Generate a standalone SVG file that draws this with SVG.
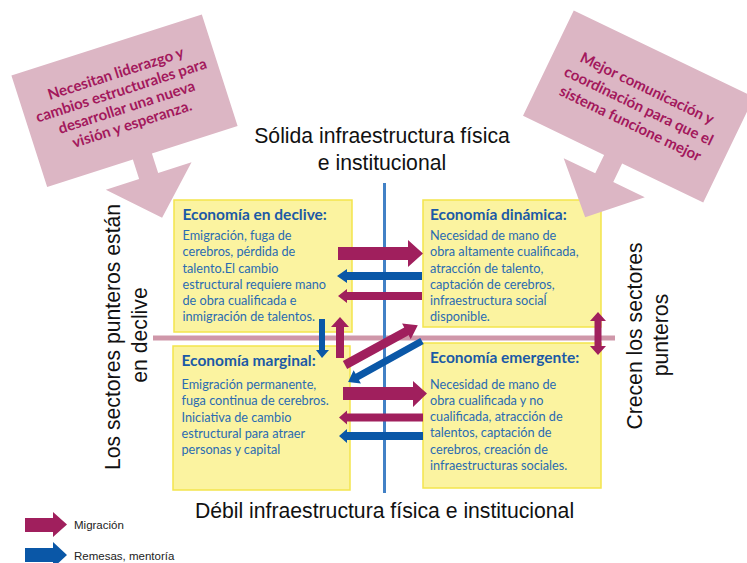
<svg xmlns="http://www.w3.org/2000/svg" width="747" height="563" viewBox="0 0 747 563">
<style>
.box{fill:#fbf3a0;stroke:#f3e54c;stroke-width:1.5}
.ttl{font-family:Lato,"Liberation Sans",sans-serif;font-weight:bold;font-size:15.5px;fill:#1b5aa6}
.bd{font-family:Lato,"Liberation Sans",sans-serif;font-size:12.7px;fill:#2a6bb2}
.big{font-family:"Liberation Sans",Arial,sans-serif;font-size:21.2px;fill:#111}
.co{fill:#dcb6c4}
.cot{font-family:Lato,"Liberation Sans",sans-serif;font-weight:bold;font-size:15px;fill:#a3185c;text-anchor:middle}
.mg{fill:#a01f5d}
.bl{fill:#0a57a7}
.leg{font-family:"Liberation Sans",Arial,sans-serif;font-size:11.5px;fill:#222}
</style>
<rect width="747" height="563" fill="#fff"/>
<g id="axes">
<line x1="153" y1="338" x2="615" y2="338" stroke="#cf97a9" stroke-width="5"/>
</g>
<g id="node-declive">
<rect class="box" x="174" y="200" width="178" height="132"/>
<text class="ttl" x="182.5" y="220">Economía en declive:</text>
<text class="bd" x="182.5" y="240">Emigración, fuga de</text>
<text class="bd" x="182.5" y="256.3">cerebros, pérdida de</text>
<text class="bd" x="182.5" y="272.5">talento.El cambio</text>
<text class="bd" x="182.5" y="288.7">estructural requiere mano</text>
<text class="bd" x="182.5" y="305">de obra cualificada e</text>
<text class="bd" x="182.5" y="321">inmigración de talentos.</text>
</g>
<g id="node-dinamica">
<rect class="box" x="423" y="200" width="178" height="127"/>
<text class="ttl" x="430" y="220">Economía dinámica:</text>
<text class="bd" x="430" y="240">Necesidad de mano de</text>
<text class="bd" x="430" y="256.3">obra altamente cualificada,</text>
<text class="bd" x="430" y="272.5">atracción de talento,</text>
<text class="bd" x="430" y="288.7">captación de cerebros,</text>
<text class="bd" x="430" y="305">infraestructura sociaĺ</text>
<text class="bd" x="430" y="321">disponible.</text>
</g>
<g id="node-marginal">
<rect class="box" x="173" y="346" width="177" height="144"/>
<text class="ttl" x="181.5" y="365.5">Economía marginal:</text>
<text class="bd" x="181.5" y="389">Emigración permanente,</text>
<text class="bd" x="181.5" y="405.3">fuga continua de cerebros.</text>
<text class="bd" x="181.5" y="421.5">Iniciativa de cambio</text>
<text class="bd" x="181.5" y="437.8">estructural para atraer</text>
<text class="bd" x="181.5" y="454">personas y capital</text>
</g>
<g id="node-emergente">
<rect class="box" x="423" y="343" width="178" height="145"/>
<text class="ttl" x="430" y="363">Economía emergente:</text>
<text class="bd" x="430" y="388.5">Necesidad de mano de</text>
<text class="bd" x="430" y="404.8">obra cualificada y no</text>
<text class="bd" x="430" y="421">cualificada, atracción de</text>
<text class="bd" x="430" y="437.3">talentos, captación de</text>
<text class="bd" x="430" y="453.5">cerebros, creación de</text>
<text class="bd" x="430" y="470">infraestructuras sociales.</text>
</g>
<g id="axis-blue">
<line x1="384.5" y1="183" x2="384.5" y2="493" stroke="#4281c6" stroke-width="3"/>
</g>
<g id="connectors">
<polygon class="mg" points="338,247 408,247 408,240 423,253.5 408,267 408,260 338,260"/>
<polygon class="bl" points="422,272 347,272 347,269 337,276 347,283 347,280 422,280"/>
<polygon class="mg" points="422,292 347,292 347,289 338,296 347,303 347,300 422,300"/>
<polygon class="bl" points="319,319 325,319 325,350 329,350 322,358 316,350 319,350"/>
<polygon class="mg" points="336,358 344,358 344,327 349,327 340,317 331,327 336,327"/>
<polygon class="mg" transform="translate(345,365) rotate(-28.7)" points="0,-4.5 70,-4.5 70,-9 83,0 70,9 70,4.5 0,4.5"/>
<polygon class="bl" transform="translate(422,341) rotate(151)" points="0,-3.5 74,-3.5 74,-7.5 84.5,0 74,7.5 74,3.5 0,3.5"/>
<polygon class="mg" points="343,387 413,387 413,381 427,393.5 413,407 413,400 343,400"/>
<polygon class="mg" points="423,413.5 347,413.5 347,410.5 339,417.5 347,424.5 347,421.5 423,421.5"/>
<polygon class="bl" points="423,432 347,432 347,429 339,436 347,443 347,440 423,440"/>
<polygon class="mg" points="598,312 606,321 601.5,321 601.5,346 606,346 598,355 590,346 594.5,346 594.5,321 590,321"/>
</g>
<g id="labels">
<text class="big" x="382" y="143" text-anchor="middle">Sólida infraestructura física</text>
<text class="big" x="382" y="170" text-anchor="middle">e institucional</text>
<text class="big" x="384.5" y="518" text-anchor="middle">Débil infraestructura física e institucional</text>
<text class="big" text-anchor="middle" transform="translate(120,337) rotate(-90)">Los sectores punteros están</text>
<text class="big" text-anchor="middle" transform="translate(147,335) rotate(-90)">en declive</text>
<text class="big" text-anchor="middle" transform="translate(642,336) rotate(-90)">Crecen los sectores</text>
<text class="big" text-anchor="middle" transform="translate(668,335) rotate(-90)">punteros</text>
</g>
<g id="callout-left" transform="translate(124.5,100.75) rotate(-17.8)">
<path class="co" d="M-100,-58.5 H100 V58.5 H10 V79 H45 L0,123 L-45,79 H-10 V58.5 H-100 Z"/>
<text class="cot" x="0" y="-23.5">Necesitan liderazgo y</text>
<text class="cot" x="0" y="-5.8">cambios estructurales para</text>
<text class="cot" x="0" y="11.9">desarrollar una nueva</text>
<text class="cot" x="0" y="29.6">visión y esperanza.</text>
</g>
<g id="callout-right" transform="translate(638.5,106.5) rotate(25.7)">
<path class="co" d="M-100,-58.5 H100 V58.5 H10 V79 H45 L0,123 L-45,79 H-10 V58.5 H-100 Z"/>
<text class="cot" x="0" y="-15">Mejor comunicación y</text>
<text class="cot" x="0" y="4.5">coordinación para que el</text>
<text class="cot" x="0" y="24">sistema funcione mejor</text>
</g>
<g id="legend">
<polygon class="mg" points="25,518 53,518 53,512 67,524.5 53,537 53,532 25,532"/>
<polygon class="bl" points="25,548 53,548 53,542 67,555 53,568 53,562 25,562"/>
<text class="leg" x="74" y="529">Migración</text>
<text class="leg" x="74" y="559.5">Remesas, mentoría</text>
</g>
</svg>
